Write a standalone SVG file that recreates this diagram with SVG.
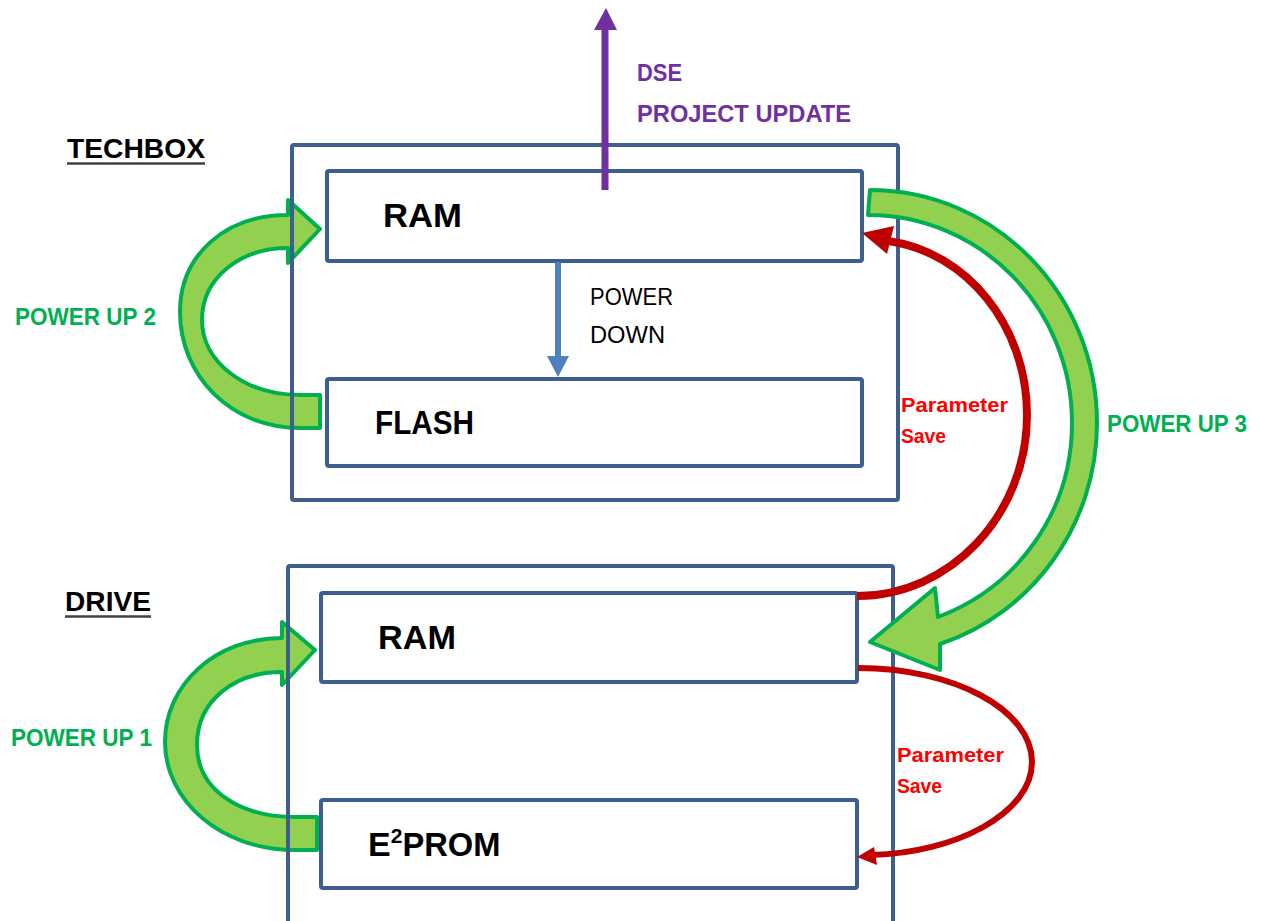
<svg xmlns="http://www.w3.org/2000/svg" width="1261" height="921" viewBox="0 0 1261 921">
<style>
.box{fill:#fff;stroke:#3D5F8F;stroke-width:4}
.outer{fill:none;stroke:#3D5F8F;stroke-width:4}
.big{font-family:"Liberation Sans",Arial,sans-serif;font-weight:bold;font-size:34px;fill:#000}
.title{font-family:"Liberation Sans",Arial,sans-serif;font-weight:bold;font-size:28px;fill:#000}
.ul{stroke:#404040;stroke-width:2.5}
.green{fill:#92D050;stroke:#00B050;stroke-width:4;stroke-linejoin:round}
.gtext{font-family:"Liberation Sans",Arial,sans-serif;font-weight:bold;font-size:23px;fill:#00B050}
.rtext{font-family:"Liberation Sans",Arial,sans-serif;font-weight:bold;font-size:20px;fill:#FF0000}
.red{fill:none;stroke:#C00000}
.redhead{fill:#C00000}
.ptext{font-family:"Liberation Sans",Arial,sans-serif;font-weight:bold;font-size:24px;fill:#7030A0}
.ntext{font-family:"Liberation Sans",Arial,sans-serif;font-size:23px;fill:#000}
</style>
<rect width="1261" height="921" fill="#fff"/>

<g id="connectors-under">
  <path id="power-up-2" class="green" d="M 320 428 L 300 428 C 230 428 180 375 180 312 C 180 255 225 215 288 215 L 288 200 L 320 229 L 288 263 L 288 248 C 240 248 202 278 202 320 C 202 362 245 395 300 395 L 320 395 Z"/>
  <path id="power-up-1" class="green" d="M 317 850 L 295 850 C 220 850 165 800 165 742 C 165 685 215 638 282 638 L 282 622 L 315 650 L 282 685 L 282 672 C 235 672 197 700 197 745 C 197 790 240 817 295 817 L 317 817 Z"/>
</g>

<g id="techbox">
  <rect class="outer" x="292" y="145" width="606" height="355" rx="2"/>
  <text class="title" x="67" y="158" textLength="138" lengthAdjust="spacingAndGlyphs">TECHBOX</text>
  <line class="ul" x1="67" y1="163.5" x2="205" y2="163.5"/>
</g>
<g id="techbox-ram">
  <rect class="box" x="327" y="171" width="535" height="90" rx="2"/>
  <text class="big" x="383" y="227" textLength="79" lengthAdjust="spacingAndGlyphs">RAM</text>
</g>
<g id="techbox-flash">
  <rect class="box" x="327" y="379" width="535" height="87" rx="2"/>
  <text class="big" x="375" y="434" textLength="99" lengthAdjust="spacingAndGlyphs">FLASH</text>
</g>

<g id="drive">
  <rect class="outer" x="288" y="566" width="605" height="362" rx="2"/>
  <text class="title" x="65" y="611" textLength="86" lengthAdjust="spacingAndGlyphs">DRIVE</text>
  <line class="ul" x1="65" y1="616.5" x2="151" y2="616.5"/>
</g>
<g id="drive-ram">
  <rect class="box" x="321" y="593" width="536" height="89" rx="2"/>
  <text class="big" x="378" y="649" textLength="78" lengthAdjust="spacingAndGlyphs">RAM</text>
</g>
<g id="drive-eeprom">
  <rect class="box" x="321" y="800" width="536" height="88" rx="2"/>
  <text class="big" x="368" y="856">E<tspan dy="-13" font-size="21">2</tspan><tspan dy="13" textLength="98" lengthAdjust="spacingAndGlyphs">PROM</tspan></text>
</g>

<g id="connectors">
  <path id="power-up-3" class="green" d="M 870 190 C 995 190 1097 294 1097 423 C 1097 524 1033 613 940 644 L 940 670 L 870 642 L 935 588 L 938 617 C 1018 587 1072 511 1072 423 C 1072 308 981 215 868 215 Z"/>
  <g id="param-save-1">
    <path class="red" stroke-width="8" d="M 857 596 C 950 596 1027 515 1027 415 C 1027 326 967 252 888 241"/>
    <polygon class="redhead" points="862,233 894,226 887,254"/>
  </g>
  <g id="param-save-2">
    <path class="red" stroke-width="6" d="M 858 668 C 954 668 1032 710 1032 762 C 1032 814 954 853 872 855"/>
    <polygon class="redhead" points="857,857 874,847 877,865"/>
  </g>
  <g id="power-down">
    <line x1="558" y1="262" x2="558" y2="358" stroke="#4F81BD" stroke-width="6"/>
    <polygon points="547,356 569,356 558,377" fill="#4F81BD"/>
  </g>
  <g id="dse-update">
    <line x1="605" y1="190" x2="605" y2="26" stroke="#7030A0" stroke-width="7"/>
    <polygon points="594,30 617,30 606,8" fill="#7030A0"/>
  </g>
</g>

<g id="labels">
  <text class="ptext" x="637" y="81" textLength="45" lengthAdjust="spacingAndGlyphs">DSE</text>
  <text class="ptext" x="637" y="122" textLength="214" lengthAdjust="spacingAndGlyphs">PROJECT UPDATE</text>
  <text class="ntext" x="590" y="305" textLength="83" lengthAdjust="spacingAndGlyphs">POWER</text>
  <text class="ntext" x="590" y="343" textLength="75" lengthAdjust="spacingAndGlyphs">DOWN</text>
  <text class="gtext" x="15" y="325" textLength="141" lengthAdjust="spacingAndGlyphs">POWER UP 2</text>
  <text class="gtext" x="1107" y="432" textLength="140" lengthAdjust="spacingAndGlyphs">POWER UP 3</text>
  <text class="gtext" x="11" y="746" textLength="141" lengthAdjust="spacingAndGlyphs">POWER UP 1</text>
  <text class="rtext" x="901" y="412" textLength="107" lengthAdjust="spacingAndGlyphs">Parameter</text>
  <text class="rtext" x="901" y="443" textLength="45" lengthAdjust="spacingAndGlyphs">Save</text>
  <text class="rtext" x="897" y="762" textLength="107" lengthAdjust="spacingAndGlyphs">Parameter</text>
  <text class="rtext" x="897" y="793" textLength="45" lengthAdjust="spacingAndGlyphs">Save</text>
</g>
</svg>
